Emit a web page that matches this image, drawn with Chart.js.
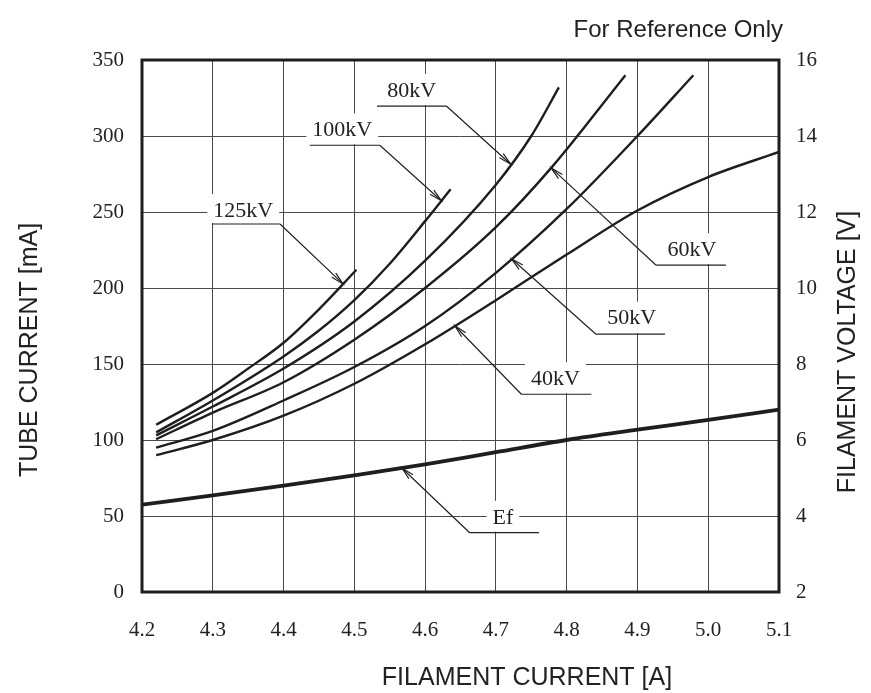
<!DOCTYPE html>
<html>
<head>
<meta charset="utf-8">
<script src="https://cdn.jsdelivr.net/npm/chart.js@4.4.0/dist/chart.umd.min.js"></script>
<style>
  html, body { margin: 0; padding: 0; background: #fff; }
</style>
</head>
<body>
<canvas id="tubeChart" width="871" height="693"></canvas>
<script>
// axis ranges / ticks
const currentTicks = [4.2, 4.3, 4.4, 4.5, 4.6, 4.7, 4.8, 4.9, 5.0, 5.1];
const tubeTicks = [0, 50, 100, 150, 200, 250, 300, 350];
const voltTicks = [2, 4, 6, 8, 10, 12, 14, 16];

// tube current [mA] vs filament current [A], one pair per tube voltage
const if125 = [4.22, 4.3, 4.35, 4.4, 4.45, 4.503];
const ma125 = [110, 131, 147, 164, 186, 212];
const if100 = [4.22, 4.3, 4.4, 4.45, 4.5, 4.55, 4.6, 4.636];
const ma100 = [105, 126, 155, 172, 192, 216, 244, 265];
const if80 = [4.22, 4.3, 4.4, 4.5, 4.6, 4.7, 4.75, 4.789];
const ma80 = [103, 122, 147, 178, 218, 268, 300, 332];
const if60 = [4.22, 4.3, 4.4, 4.5, 4.6, 4.7, 4.78, 4.883];
const ma60 = [100.5, 118, 138, 166, 200, 240, 280, 340];
const if50 = [4.22, 4.3, 4.4, 4.5, 4.6, 4.7, 4.8, 4.9, 4.979];
const ma50 = [95, 106, 126, 148, 175, 210, 252, 300, 340];
const if40 = [4.22, 4.3, 4.4, 4.5, 4.6, 4.7, 4.8, 4.9, 5.0, 5.1];
const ma40 = [90, 100, 116, 137, 163, 192, 222, 251, 273, 289.5];

// filament voltage [V] (right axis)
const ifEf = [4.2, 4.3, 4.4, 4.5, 4.6, 4.7, 4.8, 4.9, 5.0, 5.1];
const vEf = [4.3, 4.54, 4.8, 5.07, 5.36, 5.68, 6.0, 6.27, 6.53, 6.8];

const seriesNames = ["125kV", "100kV", "80kV", "60kV", "50kV", "40kV", "Ef"];

function pts(xs, ys) {
  return xs.map((x, i) => ({ x: x, y: ys[i] }));
}

const ink = "#1e1e1e";

function curve(label, xs, ys, width, axis) {
  return {
    label: label,
    data: pts(xs, ys),
    yAxisID: axis || "y",
    borderColor: ink,
    borderWidth: width,
    pointRadius: 0,
    fill: false,
    cubicInterpolationMode: "monotone",
  };
}

// callout labels: text centre, underline and arrow target (x on the series)
const callouts = [
  { text: "125kV", series: 0, at: [4.343, 251.3], under: [4.299, 4.395, 242.1], tip: 4.484, from: "right" },
  { text: "100kV", series: 1, at: [4.483, 304.4], under: [4.437, 4.536, 293.9], tip: 4.623, from: "right" },
  { text: "80kV", series: 2, at: [4.581, 330.3], under: [4.532, 4.630, 319.7], tip: 4.721, from: "right" },
  { text: "60kV", series: 3, at: [4.977, 225.5], under: [4.926, 5.025, 215.1], tip: 4.778, from: "left" },
  { text: "50kV", series: 4, at: [4.892, 180.5], under: [4.841, 4.939, 169.7], tip: 4.722, from: "left" },
  { text: "40kV", series: 5, at: [4.784, 140.6], under: [4.736, 4.835, 130.1], tip: 4.642, from: "left" },
  { text: "Ef", series: 6, at: [4.710, 49.5], under: [4.663, 4.761, 39.0], tip: 4.567, from: "left" },
];

function valueAt(data, x) {
  for (let i = 1; i < data.length; i++) {
    if (x <= data[i].x) {
      const a = data[i - 1], b = data[i];
      return a.y + (b.y - a.y) * (x - a.x) / (b.x - a.x);
    }
  }
  return data[data.length - 1].y;
}

const decor = {
  id: "decor",
  afterDatasetsDraw(chart) {
    const ctx = chart.ctx;
    const xs = chart.scales.x, ys = chart.scales.y;
    const area = chart.chartArea;

    ctx.save();
    ctx.font = "22px 'Liberation Serif'";
    ctx.textAlign = "center";
    ctx.textBaseline = "middle";
    callouts.forEach((c) => {
      const tx = xs.getPixelForValue(c.at[0]);
      const ty = ys.getPixelForValue(c.at[1]);
      const u1 = xs.getPixelForValue(c.under[0]);
      const u2 = xs.getPixelForValue(c.under[1]);
      const uy = ys.getPixelForValue(c.under[2]);
      const w = ctx.measureText(c.text).width;

      // white box hides the grid behind the text
      ctx.fillStyle = "#fff";
      ctx.fillRect(tx - w / 2 - 6, ty - 16, w + 12, uy - ty + 15);
      ctx.fillStyle = "#222";
      ctx.fillText(c.text, tx, ty + 1);

      const ds = chart.data.datasets[c.series];
      const sy = chart.scales[ds.yAxisID];
      const px = xs.getPixelForValue(c.tip);
      const py = sy.getPixelForValue(valueAt(ds.data, c.tip));
      const sx = c.from === "left" ? u1 : u2;

      ctx.strokeStyle = "#222";
      ctx.lineWidth = 1.2;
      ctx.beginPath();
      ctx.moveTo(u1, uy);
      ctx.lineTo(u2, uy);
      ctx.moveTo(sx, uy);
      ctx.lineTo(px, py);
      ctx.stroke();

      // open arrow head
      const ang = Math.atan2(uy - py, sx - px);
      const len = 13, spread = 0.22;
      ctx.beginPath();
      ctx.moveTo(px + len * Math.cos(ang - spread), py + len * Math.sin(ang - spread));
      ctx.lineTo(px, py);
      ctx.lineTo(px + len * Math.cos(ang + spread), py + len * Math.sin(ang + spread));
      ctx.stroke();
    });

    // frame
    ctx.strokeStyle = ink;
    ctx.lineWidth = 3;
    ctx.strokeRect(area.left, area.top, area.right - area.left, area.bottom - area.top);
    ctx.restore();
  },
  afterDraw(chart) {
    const ctx = chart.ctx;
    const area = chart.chartArea;
    ctx.save();
    ctx.fillStyle = "#222";
    ctx.textBaseline = "middle";
    ctx.textAlign = "center";
    ctx.font = "25px 'Liberation Sans'";
    ctx.fillText("FILAMENT CURRENT [A]", 527, 678);

    ctx.translate(30, 350);
    ctx.rotate(-Math.PI / 2);
    ctx.fillText("TUBE CURRENT [mA]", 0, 0);
    ctx.restore();

    ctx.save();
    ctx.fillStyle = "#222";
    ctx.textBaseline = "middle";
    ctx.textAlign = "center";
    ctx.font = "25px 'Liberation Sans'";
    ctx.translate(848, 352);
    ctx.rotate(-Math.PI / 2);
    ctx.fillText("FILAMENT VOLTAGE [V]", 0, 0);
    ctx.restore();

    ctx.save();
    ctx.fillStyle = "#222";
    ctx.textBaseline = "middle";
    ctx.textAlign = "right";
    ctx.font = "24px 'Liberation Sans'";
    ctx.fillText("For Reference Only", area.right + 4, 30);
    ctx.restore();
  },
};

const tickFont = { family: "'Liberation Serif'", size: 21 };

const ctx = document.getElementById("tubeChart").getContext("2d");
const myChart = new Chart(ctx, {
  type: "line",
  data: {
    datasets: [
      curve(seriesNames[0], if125, ma125, 2.4),
      curve(seriesNames[1], if100, ma100, 2.4),
      curve(seriesNames[2], if80, ma80, 2.4),
      curve(seriesNames[3], if60, ma60, 2.4),
      curve(seriesNames[4], if50, ma50, 2.4),
      curve(seriesNames[5], if40, ma40, 2.4),
      curve(seriesNames[6], ifEf, vEf, 3.8, "y2"),
    ],
  },
  options: {
    responsive: false,
    animation: false,
    events: [],
    layout: { padding: { top: 60, left: 0, right: 0, bottom: 0 } },
    plugins: {
      legend: { display: false },
      tooltip: { enabled: false },
    },
    scales: {
      x: {
        type: "linear",
        min: currentTicks[0],
        max: currentTicks[currentTicks.length - 1],
        afterBuildTicks: (s) => { s.ticks = currentTicks.map((v) => ({ value: v })); },
        afterFit: (s) => { s.height = 101; },
        grid: { color: "#4a4a4a", lineWidth: 1, drawTicks: false },
        border: { display: false },
        ticks: {
          padding: 26,
          color: "#222",
          font: tickFont,
          maxRotation: 0,
          callback: (v) => v.toFixed(1),
        },
      },
      y: {
        position: "left",
        min: tubeTicks[0],
        max: tubeTicks[tubeTicks.length - 1],
        afterBuildTicks: (s) => { s.ticks = tubeTicks.map((v) => ({ value: v })); },
        afterFit: (s) => { s.width = 142; },
        grid: { color: "#4a4a4a", lineWidth: 1, drawTicks: false },
        border: { display: false },
        ticks: { padding: 18, color: "#222", font: tickFont },
      },
      y2: {
        position: "right",
        min: voltTicks[0],
        max: voltTicks[voltTicks.length - 1],
        afterBuildTicks: (s) => { s.ticks = voltTicks.map((v) => ({ value: v })); },
        afterFit: (s) => { s.width = 92; },
        grid: { display: false, drawTicks: false },
        border: { display: false },
        ticks: { padding: 17, color: "#222", font: tickFont },
      },
    },
  },
  plugins: [decor],
});
</script>
</body>
</html>
